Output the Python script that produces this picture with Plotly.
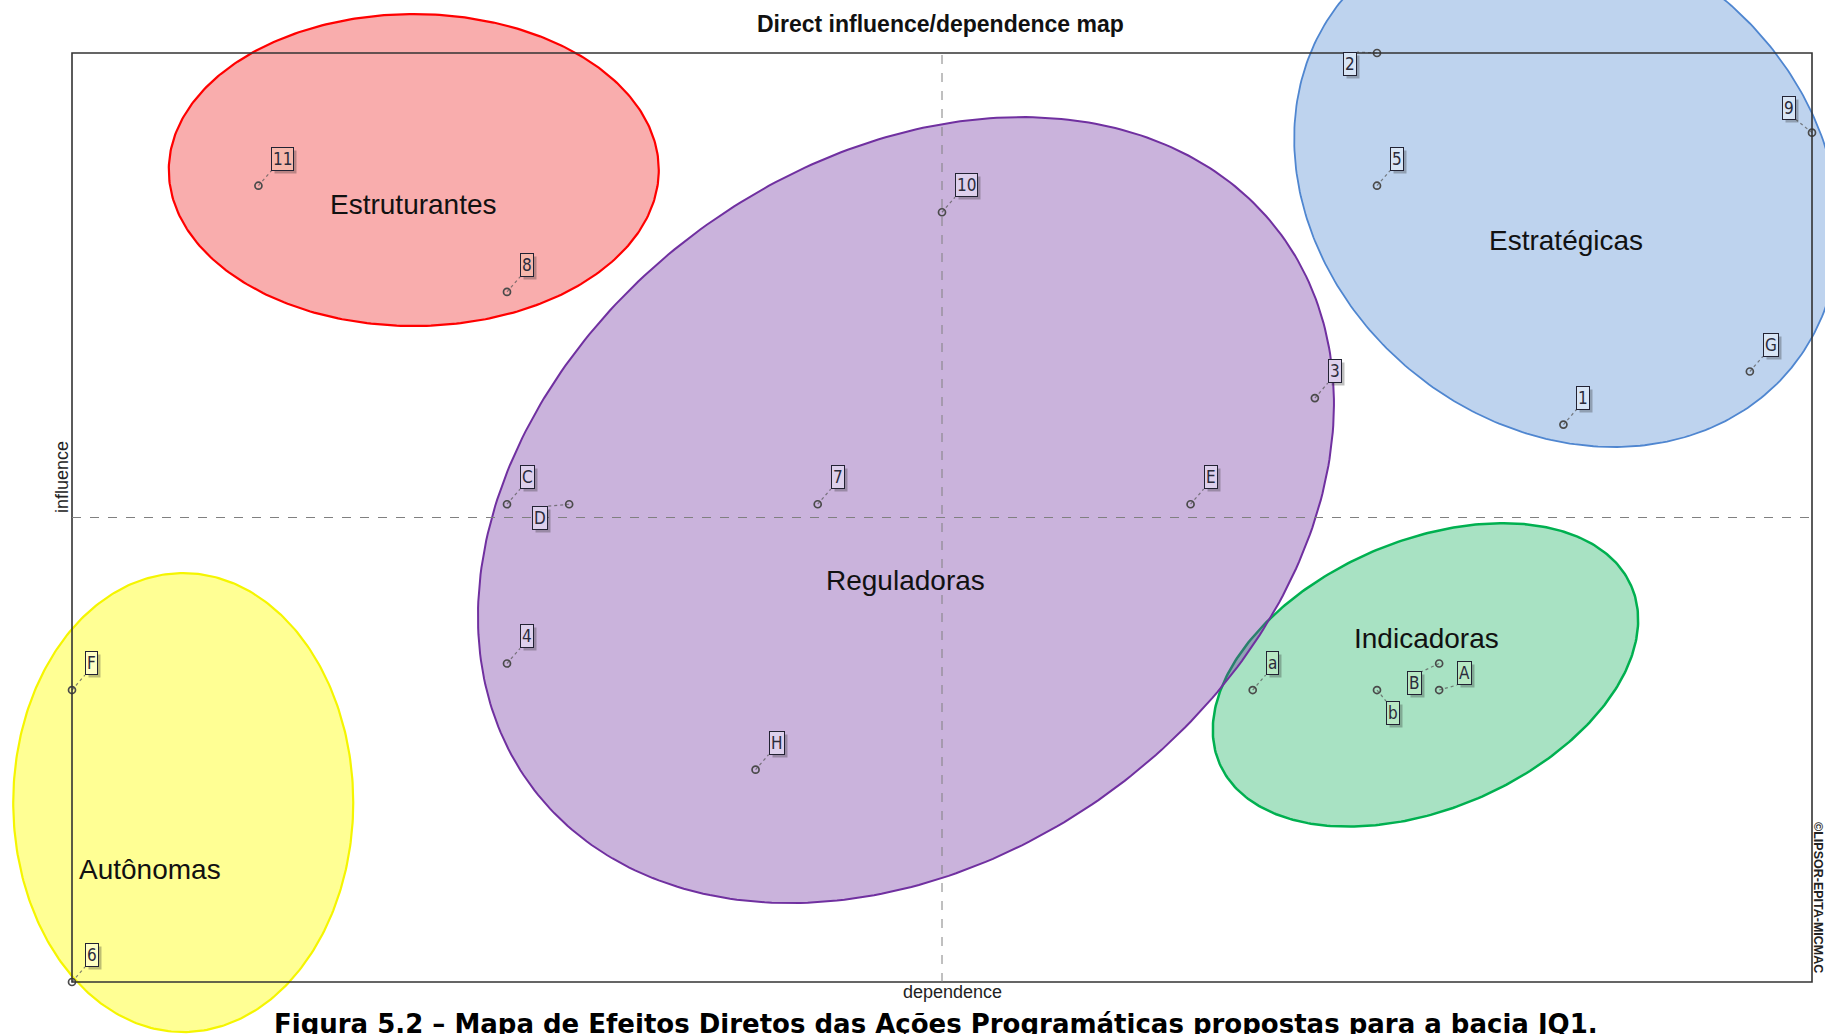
import numpy as np
import plotly.graph_objects as go

# ---------------- data ----------------
labels = ["11", "8", "10", "2", "5", "9", "G", "1", "3", "C", "D",
          "F", "4", "7", "E", "H", "a", "b", "B", "A", "6"]
dependence = [3, 7, 14, 21, 21, 28, 27, 24, 20, 7, 8,
              0, 7, 12, 18, 11, 19, 21, 22, 22, 0]
influence = [30, 26, 29, 35, 30, 32, 23, 21, 22, 18, 18,
             11, 12, 18, 18, 8, 11, 11, 12, 11, 0]
groups = ["Estruturantes", "Estruturantes", "Reguladoras", "Estratégicas", "Estratégicas",
          "Estratégicas", "Estratégicas", "Estratégicas", "Reguladoras", "Reguladoras",
          "Reguladoras", "Autônomas", "Reguladoras", "Reguladoras", "Reguladoras",
          "Reguladoras", "Indicadoras", "Indicadoras", "Indicadoras", "Indicadoras",
          "Autônomas"]
dep_axis = [0, 28]
inf_axis = [0, 35]

title_text = "Direct influence/dependence map"
x_title = "dependence"
y_title = "influence"
caption = "Figura 5.2 – Mapa de Efeitos Diretos das Ações Programáticas propostas para a bacia JQ1."
watermark = "©LIPSOR-EPITA-MICMAC"

# ---------------- layout geometry (pixels) ----------------
FIG_W, FIG_H = 1825, 1034
BOX_L, BOX_R, BOX_T, BOX_B = 72, 1812, 53, 982
sx = (BOX_R - BOX_L) / (dep_axis[1] - dep_axis[0])
sy = (BOX_B - BOX_T) / (inf_axis[1] - inf_axis[0])
x_range = [dep_axis[0] - BOX_L / sx, dep_axis[1] + (FIG_W - BOX_R) / sx]
y_range = [inf_axis[0] - (FIG_H - BOX_B) / sy, inf_axis[1] + BOX_T / sy]
cross_x = (dep_axis[0] + dep_axis[1]) / 2
cross_y = (inf_axis[0] + inf_axis[1]) / 2

# group ellipses: centre in axis units, semi-axes in px, angle in degrees
group_style = {
    "Autônomas":     dict(c=(1.79, 6.76),   a=170,   b=229.5, ang=0,
                          line="#F5F500", fill="rgba(255,255,0,0.42)", w=2.2,
                          lab="#FFFFC4", txt=(1.255, 4.22)),
    "Estruturantes": dict(c=(5.50, 30.59),  a=245,   b=156,   ang=0,
                          line="#FF0000", fill="rgba(240,50,50,0.40)", w=2.2,
                          lab="#F7B8AC", txt=(5.497, 29.31)),
    "Indicadoras":   dict(c=(21.78, 11.57), a=224.2, b=134.1, ang=23.25,
                          line="#00B050", fill="rgba(0,170,80,0.34)", w=2.5,
                          lab="#B8E8C4", txt=(21.79, 12.96)),
    "Reguladoras":   dict(c=(13.42, 17.78), a=465.4, b=347.9, ang=36.25,
                          line="#7030A0", fill="rgba(112,48,160,0.37)", w=2,
                          lab="#DDD0EC", txt=(13.42, 15.11)),
    "Estratégicas":  dict(c=(24.05, 30.06), a=290.4, b=242.8, ang=-39.25,
                          line="#4F86D0", fill="rgba(80,135,210,0.37)", w=1.8,
                          lab="#D8E5F5", txt=(24.04, 27.95)),
}

# label-box placement relative to the point: (xanchor, yanchor, xshift, yshift) in px
default_place = ("left", "bottom", 13, 15)
special_place = {
    "2": ("right", "top", -20, 1),
    "D": ("right", "top", -21, -2),
    "9": ("right", "bottom", -16, 13),
    "b": ("left", "top", 9, -11),
    "B": ("right", "top", -17, -8),
    "A": ("left", "bottom", 18, 5),
}

fig = go.Figure()

# ellipses
for name, st in group_style.items():
    t = np.linspace(0, 2 * np.pi, 361)
    phi = np.deg2rad(st["ang"])
    dx = st["a"] * np.cos(t) * np.cos(phi) - st["b"] * np.sin(t) * np.sin(phi)
    dy = st["a"] * np.cos(t) * np.sin(phi) + st["b"] * np.sin(t) * np.cos(phi)
    fig.add_trace(go.Scatter(
        x=st["c"][0] + dx / sx, y=st["c"][1] + dy / sy,
        mode="lines", fill="toself", fillcolor=st["fill"],
        line=dict(color=st["line"], width=st["w"]),
        hoverinfo="skip", showlegend=False))

# connectors
cx_, cy_ = [], []
for lab, xv, yv in zip(labels, dependence, influence):
    xa, ya, xs, ys = special_place.get(lab, default_place)
    cx_ += [xv, xv + xs / sx, None]
    cy_ += [yv, yv + ys / sy, None]
fig.add_trace(go.Scatter(x=cx_, y=cy_, mode="lines",
                         line=dict(color="rgba(90,90,90,0.75)", width=1.2, dash="dot"),
                         hoverinfo="skip", showlegend=False))

# points
fig.add_trace(go.Scatter(
    x=dependence, y=influence, mode="markers",
    marker=dict(symbol="circle-open", size=7, color="#4a4a4a", line=dict(width=1.7)),
    text=labels, hovertemplate="%{text}: dep %{x}, inf %{y}<extra></extra>",
    showlegend=False, cliponaxis=False))

annotations = []
label_font = "Liberation Sans Narrow, Arial Narrow, DejaVu Sans Condensed, Liberation Sans, Arial"
for lab, xv, yv, g in zip(labels, dependence, influence, groups):
    xa, ya, xs, ys = special_place.get(lab, default_place)
    common = dict(x=xv, y=yv, xref="x", yref="y", text=lab, showarrow=False,
                  xanchor=xa, yanchor=ya, borderpad=1, borderwidth=1)
    annotations.append(dict(common, xshift=xs + 3, yshift=ys - 3,
                            font=dict(family=label_font, size=17, color="rgba(0,0,0,0)"),
                            bgcolor="rgba(40,40,40,0.30)", bordercolor="rgba(0,0,0,0)"))
    annotations.append(dict(common, xshift=xs, yshift=ys,
                            font=dict(family=label_font, size=17, color="#2b2b3b"),
                            bgcolor=group_style[g]["lab"], bordercolor="#222233"))

for name, st in group_style.items():
    annotations.append(dict(x=st["txt"][0], y=st["txt"][1], xref="x", yref="y",
                            text=name, showarrow=False, xanchor="center", yanchor="middle",
                            font=dict(family="Liberation Sans, Arial", size=28, color="#111111")))

annotations += [
    dict(x=941 / FIG_W, y=1 - 24 / FIG_H, xref="paper", yref="paper", text=f"<b>{title_text}</b>",
         showarrow=False, xanchor="center", yanchor="middle",
         font=dict(family="Liberation Sans, Arial", size=23, color="#111111")),
    dict(x=62 / FIG_W, y=1 - 477 / FIG_H, xref="paper", yref="paper", text=y_title,
         showarrow=False, xanchor="center", yanchor="middle", textangle=-90,
         font=dict(family="Liberation Sans, Arial", size=18, color="#222222")),
    dict(x=952 / FIG_W, y=1 - 992 / FIG_H, xref="paper", yref="paper", text=x_title,
         showarrow=False, xanchor="center", yanchor="middle",
         font=dict(family="Liberation Sans, Arial", size=18, color="#222222")),
    dict(x=936 / FIG_W, y=1 - 1024 / FIG_H, xref="paper", yref="paper", text=f"<b>{caption}</b>",
         showarrow=False, xanchor="center", yanchor="middle",
         font=dict(family="DejaVu Sans, Verdana", size=26, color="#000000")),
    dict(x=1818 / FIG_W, y=1 - 897 / FIG_H, xref="paper", yref="paper", text=f"<b>{watermark}</b>",
         showarrow=False, xanchor="center", yanchor="middle", textangle=90,
         font=dict(family="Liberation Sans, Arial", size=12.5, color="#222222")),
]

shapes = [
    dict(type="rect", xref="x", yref="y", x0=dep_axis[0], x1=dep_axis[1],
         y0=inf_axis[0], y1=inf_axis[1], line=dict(color="#333333", width=1.6), layer="above"),
    dict(type="line", xref="x", yref="y", x0=cross_x, x1=cross_x, y0=inf_axis[0], y1=inf_axis[1],
         line=dict(color="#808080", width=1, dash="dash"), layer="above"),
    dict(type="line", xref="x", yref="y", x0=dep_axis[0], x1=dep_axis[1], y0=cross_y, y1=cross_y,
         line=dict(color="#808080", width=1, dash="dash"), layer="above"),
]

fig.update_layout(
    width=FIG_W, height=FIG_H,
    margin=dict(l=0, r=0, t=0, b=0),
    paper_bgcolor="white", plot_bgcolor="white",
    xaxis=dict(range=x_range, visible=False, fixedrange=True),
    yaxis=dict(range=y_range, visible=False, fixedrange=True),
    annotations=annotations, shapes=shapes, showlegend=False,
)

fig.write_html("out.html", config={"displayModeBar": False},
               post_script="document.body.style.margin='0';")
